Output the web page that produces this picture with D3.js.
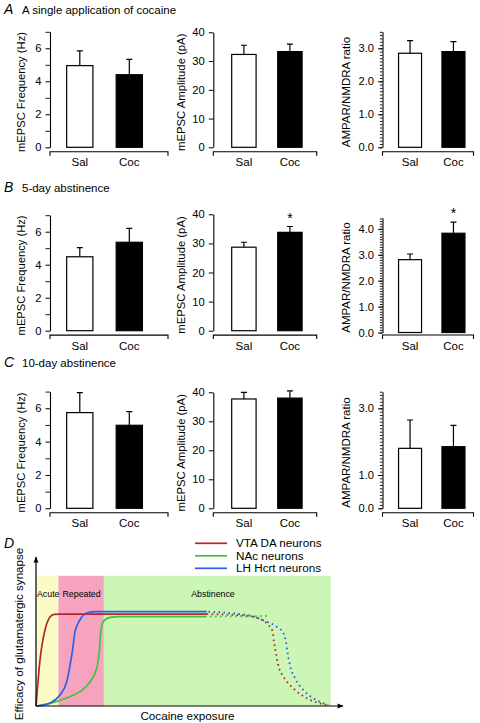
<!DOCTYPE html>
<html><head><meta charset="utf-8">
<script src="https://cdn.jsdelivr.net/npm/d3@7"></script>
<style>
body{margin:0;background:#fff}
svg{display:block}
text{font-family:Arial,"Liberation Sans",Helvetica,sans-serif;fill:#000}
</style>
</head><body>
<svg id="c" width="480" height="723"></svg>
<script>
// ---------- DATA ----------
const groups = ["Sal", "Coc"];
const rowLetters = ["A", "B", "C"];
const rowTitles = ["A single application of cocaine", "5-day abstinence", "10-day abstinence"];
const yLabels = ["mEPSC Frequency (Hz)", "mEPSC Amplitude (pA)", "AMPAR/NMDRA ratio"];

// rows: A, B, C ; values: [Sal, Coc]
const freqMean = [[4.95, 4.4], [4.48, 5.36], [5.74, 4.98]];
const freqSem  = [[0.90, 0.93], [0.55, 0.84], [1.20, 0.82]];
const ampMean  = [[32.3, 33.3], [28.7, 33.8], [37.7, 38.0]];
const ampSem   = [[3.2, 2.6], [1.7, 2.0], [2.3, 2.5]];
const ratioMean = [[2.85, 2.90], [2.81, 3.83], [1.80, 1.85]];
const ratioSem  = [[0.38, 0.30], [0.22, 0.43], [0.85, 0.64]];

const freqMax = 7, freqTicks = [0, 2, 4, 6], freqMinor = [1, 3, 5, 7];
const ampMax = 40, ampTicks = [0, 10, 20, 30, 40];
const ratioMax = [3.5, 4.43, 3.5];
const ratioTicks = [[0, 1, 2, 3], [0, 1, 2, 3, 4], [0, 1, 3]];
const ratioMinorStep = 0.1;
// significance marks: [row, column, group]
const sigMarks = [[1, 1, "Coc"], [1, 2, "Coc"]];

// Panel D  (order: VTA DA, NAc, LH Hcrt)
const phases = ["Acute", "Repeated", "Abstinence"];
const phaseStart = [0, 7.3, 22.1];
const phaseEnd = [7.3, 22.1, 96.0];
const phaseTop = 87.4;
const neuronNames = ["VTA DA neurons", "NAc neurons", "LH Hcrt neurons"];
const solidX = [
  [0, 0.65, 1.3, 1.95, 2.77, 3.58, 4.56, 5.86, 7.8, 55.6],
  [0, 4.6, 10.0, 14.3, 17.6, 19.8, 20.6, 21.1, 21.9, 24.1, 27.0, 55.6],
  [0, 1.5, 4.6, 7.8, 10.0, 11.1, 12.0, 12.7, 14.3, 16.5, 19.2, 55.6]
];
const solidY = [
  [0, 16.1, 30.9, 40.9, 49.7, 55.7, 59.7, 61.5, 61.7, 61.7],
  [0, 1.8, 5.4, 9.6, 16.3, 25.5, 36.4, 49.9, 56.6, 59.5, 60.0, 60.0],
  [0, 0.3, 2.0, 7.4, 16.3, 27.5, 38.9, 49.9, 57.7, 62.4, 63.3, 63.3]
];
const dottedX = [
  [55.6, 68.6, 73.0, 75.7, 77.1, 77.5, 78.1, 78.9, 80.6, 83.8, 88.2, 94.7],
  [55.6, 75.7],
  [55.6, 68.6, 75.1, 78.4, 80.6, 81.4, 81.9, 82.7, 84.4, 87.1, 90.3, 95.2]
];
const dottedY = [
  [61.7, 60.6, 58.4, 54.4, 49.9, 43.2, 36.4, 27.5, 19.7, 11.9, 5.2, 0.7],
  [60.0, 60.4],
  [63.3, 61.1, 56.6, 53.2, 48.8, 43.2, 36.4, 27.5, 18.6, 10.7, 5.2, 0.7]
];

// ---------- STYLE / LAYOUT ----------
const FONT = 'Arial,"Liberation Sans",Helvetica,sans-serif';
const colX = [50, 213.3, 382.5];
const colBand = [[4.3, 104.8], [6.9, 100.3], [5.2, 93.3]];
const colAxisLen = [118, 103.4, 91];
const colLabelOff = [-28.3, -31.6, -35.6];
const colLabelSize = [11.2, 11.3, 11.5];
const rowBottom = [[147.3, 147.3, 147.3], [330.7, 330.7, 332.5], [508.3, 508.3, 508.3]];
const rowTop = [[31.8, 32.3, 31.8], [215.2, 214.3, 217.7], [391.6, 392.3, 391.7]];
const rowTitleY = [14, 192, 367];
const neuronColors = ["#b8262b", "#41c23a", "#2f5fe6"];
const phaseColors = ["#fbfbc6", "#f6a3bf", "#ccf6b6"];

const svg = d3.select("#c");

function drawPanel(r, c, means, sems, max, major, minor, minorSize, fmt) {
  const ax = colX[c];
  const y = d3.scaleLinear().domain([0, max]).range([rowBottom[r][c], rowTop[r][c]]);
  const x = d3.scaleBand().domain(groups)
    .range([ax + colBand[c][0], ax + colBand[c][1]])
    .paddingInner(0.47).paddingOuter(0.25);
  const g = svg.append("g");

  if (minor) {
    const gm = g.append("g").attr("transform", `translate(${ax},0)`)
      .call(d3.axisLeft(y).tickValues(minor).tickSize(minorSize).tickSizeOuter(0).tickFormat(""));
    gm.select(".domain").remove();
    gm.selectAll("line").attr("stroke", "#000").attr("stroke-width", 0.9);
  }
  const ga = g.append("g").attr("transform", `translate(${ax},0)`)
    .call(d3.axisLeft(y).tickValues(major).tickSize(4.5).tickSizeOuter(0).tickPadding(4).tickFormat(fmt));
  ga.select(".domain").attr("stroke", "#000").attr("stroke-width", 1.1);
  ga.selectAll("line").attr("stroke", "#000").attr("stroke-width", 1);
  ga.selectAll("text").attr("font-family", FONT).attr("font-size", 11.2).attr("fill", "#000");

  const xa = rowBottom[r][c] + (r === 1 && c === 2 ? 2.5 : 4.4);
  g.append("path")
    .attr("d", `M${ax},${xa + 4}V${xa}H${ax + colAxisLen[c]}V${xa + 4}`)
    .attr("fill", "none").attr("stroke", "#000").attr("stroke-width", 1.1);
  g.selectAll(".xl").data(groups).enter().append("text")
    .attr("x", d => x(d) + x.bandwidth() / 2).attr("y", xa + 14.5)
    .attr("text-anchor", "middle").attr("font-size", 11.5).text(d => d);

  g.selectAll(".bar").data(groups).enter().append("rect")
    .attr("x", d => x(d)).attr("width", x.bandwidth())
    .attr("y", (d, i) => y(means[i])).attr("height", (d, i) => y(0) - y(means[i]))
    .attr("fill", (d, i) => i === 0 ? "#fff" : "#000")
    .attr("stroke", "#000").attr("stroke-width", 1.2);
  groups.forEach((d, i) => {
    const cx = x(d) + x.bandwidth() / 2;
    const top = y(means[i] + sems[i]);
    g.append("path")
      .attr("d", `M${cx},${y(means[i])}V${top}M${cx - 3},${top}H${cx + 3}`)
      .attr("stroke", "#000").attr("stroke-width", 1.2).attr("fill", "none");
  });
  sigMarks.filter(s => s[0] === r && s[1] === c).forEach(s => {
    const i = groups.indexOf(s[2]);
    const cx = x(s[2]) + x.bandwidth() / 2;
    g.append("text").attr("x", cx).attr("y", y(means[i] + sems[i]) - 4)
      .attr("text-anchor", "middle").attr("font-size", 14).attr("fill", "#444").text("*");
  });
  const cy = (rowBottom[r][c] + rowTop[r][c]) / 2 + 2.5;
  g.append("text").attr("transform", `translate(${ax + colLabelOff[c]},${cy}) rotate(-90)`)
    .attr("text-anchor", "middle").attr("dominant-baseline", "middle")
    .attr("font-size", colLabelSize[c]).text(yLabels[c]);
}

for (let r = 0; r < 3; r++) {
  svg.append("text").attr("x", 4).attr("y", rowTitleY[r]).attr("font-size", 14)
    .attr("font-style", "italic").text(rowLetters[r]);
  svg.append("text").attr("x", 22).attr("y", rowTitleY[r]).attr("font-size", 11.5)
    .text(rowTitles[r]);
  drawPanel(r, 0, freqMean[r], freqSem[r], freqMax, freqTicks, freqMinor, 4.5, d3.format("d"));
  drawPanel(r, 1, ampMean[r], ampSem[r], ampMax, ampTicks, null, 0, d3.format("d"));
  const minor = d3.range(0, ratioMax[r] + 1e-6, ratioMinorStep);
  drawPanel(r, 2, ratioMean[r], ratioSem[r], ratioMax[r], ratioTicks[r], minor, 2.6, d3.format(".1f"));
}

// ---------- PANEL D ----------
const xD = d3.scaleLinear().domain([0, 100]).range([36, 343]);
const yD = d3.scaleLinear().domain([0, 100]).range([706, 557]);
const gD = svg.append("g");

gD.selectAll(".ph").data(phases).enter().append("rect")
  .attr("x", (d, i) => xD(phaseStart[i])).attr("width", (d, i) => xD(phaseEnd[i]) - xD(phaseStart[i]))
  .attr("y", yD(phaseTop)).attr("height", yD(0) - yD(phaseTop))
  .attr("fill", (d, i) => phaseColors[i]);
const phaseLabelX = [37, 62.5, 213];
const phaseAnchor = ["start", "start", "middle"];
gD.selectAll(".pl").data(phases).enter().append("text")
  .attr("x", (d, i) => phaseLabelX[i]).attr("y", 596.5)
  .attr("text-anchor", (d, i) => phaseAnchor[i])
  .attr("font-size", 8.8).attr("fill", "#333").text(d => d);

const line = d3.line().x(d => xD(d[0])).y(d => yD(d[1])).curve(d3.curveMonotoneX);
[1, 0, 2].forEach(k => {
  gD.append("path").datum(d3.zip(dottedX[k], dottedY[k])).attr("d", line)
    .attr("fill", "none").attr("stroke", neuronColors[k]).attr("stroke-width", 1.9)
    .attr("stroke-dasharray", "1.6 3.4").attr("stroke-dashoffset", k * 1.6);
});
[1, 0, 2].forEach(k => {
  gD.append("path").datum(d3.zip(solidX[k], solidY[k])).attr("d", line)
    .attr("fill", "none").attr("stroke", neuronColors[k]).attr("stroke-width", 1.7);
});

const defs = svg.append("defs");
defs.append("marker").attr("id", "arr").attr("viewBox", "0 0 10 10").attr("refX", 9).attr("refY", 5)
  .attr("markerWidth", 7).attr("markerHeight", 6).attr("markerUnits", "userSpaceOnUse")
  .attr("orient", "auto").append("path").attr("d", "M0,1L10,5L0,9Z").attr("fill", "#000");
gD.append("line").attr("x1", xD(0)).attr("y1", yD(0)).attr("x2", xD(0)).attr("y2", yD(100))
  .attr("stroke", "#000").attr("stroke-width", 1.2).attr("marker-end", "url(#arr)");
gD.append("line").attr("x1", xD(0)).attr("y1", yD(0)).attr("x2", xD(100)).attr("y2", yD(0))
  .attr("stroke", "#000").attr("stroke-width", 1.2).attr("marker-end", "url(#arr)");

neuronNames.forEach((n, i) => {
  const ly = 543.3 + i * 12.5;
  gD.append("line").attr("x1", 195).attr("x2", 227).attr("y1", ly).attr("y2", ly)
    .attr("stroke", neuronColors[i]).attr("stroke-width", 1.7);
  gD.append("text").attr("x", 236).attr("y", ly + 4).attr("font-size", 11.7).text(n);
});

svg.append("text").attr("x", 4).attr("y", 548).attr("font-size", 14).attr("font-style", "italic").text("D");
svg.append("text").attr("transform", `translate(20,634) rotate(-90)`).attr("text-anchor", "middle")
  .attr("dominant-baseline", "middle").attr("font-size", 11.6).text("Efficacy of glutamatergic synapse");
svg.append("text").attr("x", 187.5).attr("y", 720).attr("text-anchor", "middle")
  .attr("font-size", 11.7).text("Cocaine exposure");
</script>
</body></html>
